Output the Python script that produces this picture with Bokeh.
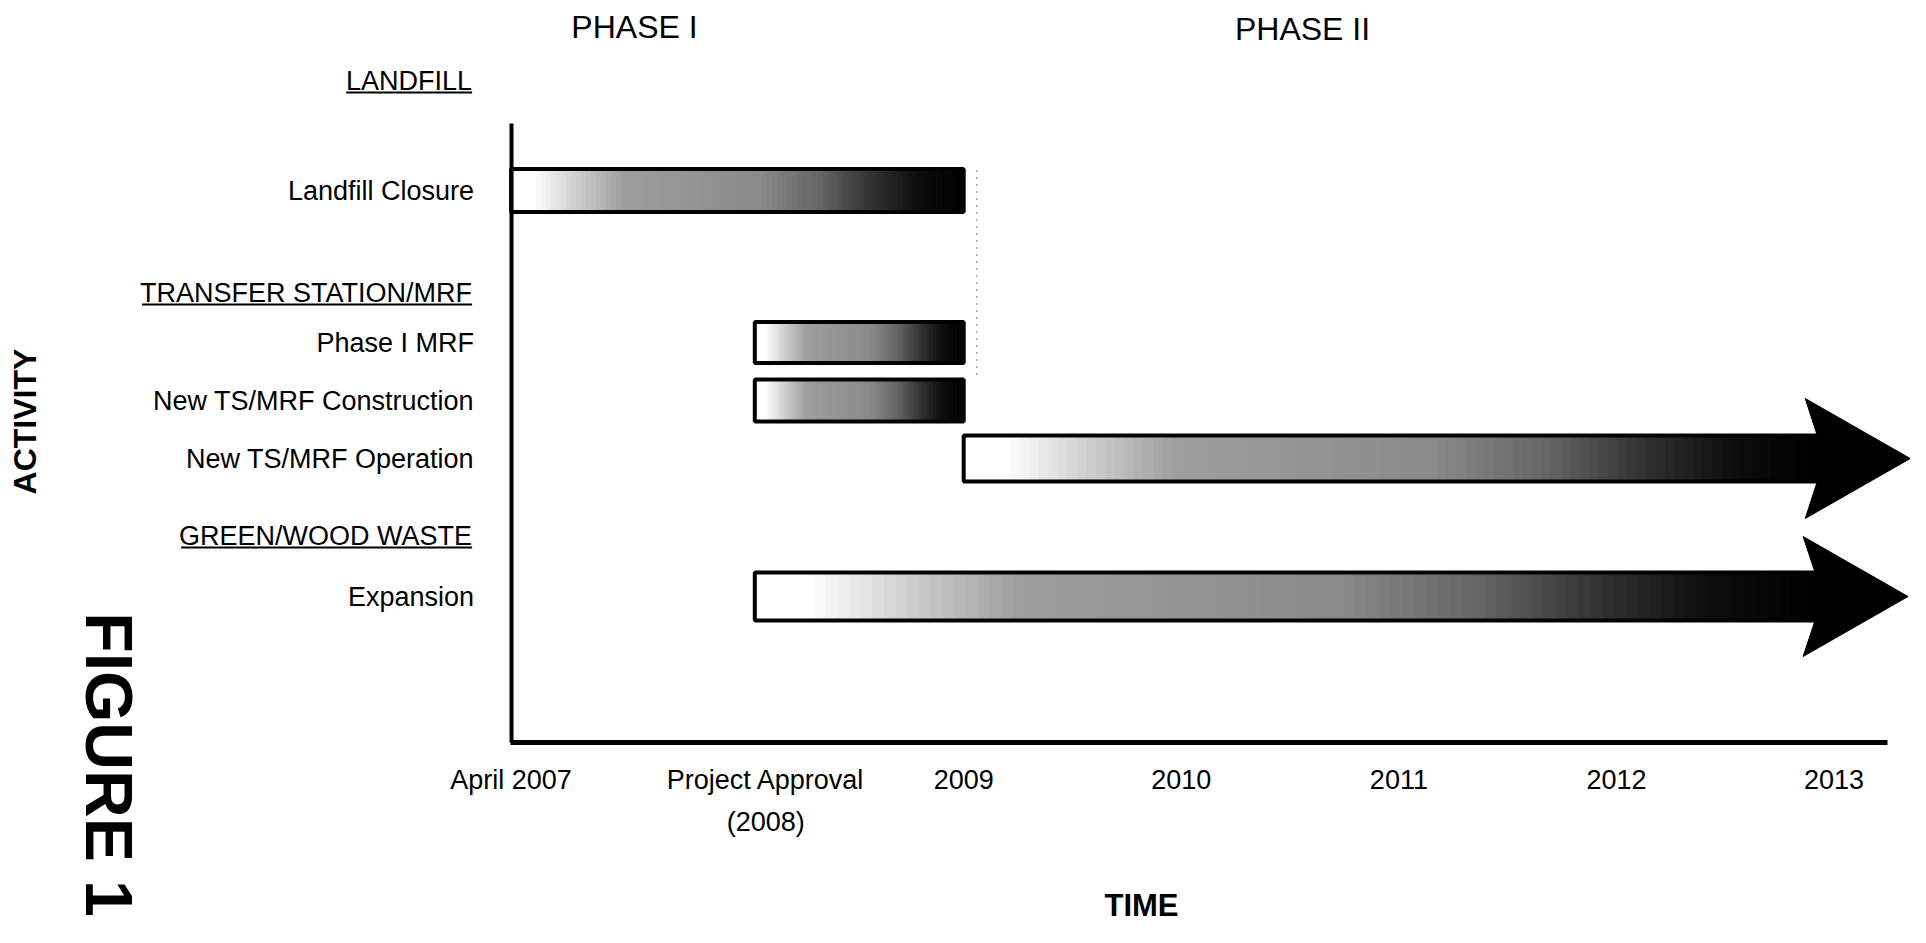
import numpy as np
from bokeh.plotting import figure
from bokeh.models import Range1d, FixedTicker, Label, ColumnDataSource
from bokeh.core.properties import value
from bokeh.embed import file_html
from bokeh.resources import INLINE

# ---------------- data ----------------
MILESTONE_LABELS = ["April 2007", "Project Approval", "2009", "2010", "2011", "2012", "2013"]
MILESTONE_SUBLABEL = "(2008)"
MILESTONE_X = [2006.92, 2008.09, 2009.0, 2010.0, 2011.0, 2012.0, 2013.0]
AXIS_END = 2013.245

GROUPS = ["LANDFILL", "TRANSFER STATION/MRF", "GREEN/WOOD WASTE"]
ACTIVITIES = ["Landfill Closure", "Phase I MRF", "New TS/MRF Construction",
              "New TS/MRF Operation", "Expansion"]
ACT_START = [2006.92, 2008.04, 2008.04, 2009.0, 2008.04]
ACT_END = [2009.0, 2009.0, 2009.0, 2013.35, 2013.34]
ACT_ONGOING = [False, False, False, True, True]

PHASES = ["PHASE I", "PHASE II"]
PHASE_BOUNDARY = 2009.06

# ---------------- layout (reference pixels) ----------------
W, H = 1910, 927
PX_PER_YEAR = 217.6
X2009_PX = 963.2
AXIS_Y_PX = 742


def sx(px):
    """reference x pixel -> data x"""
    return 2009.0 + (px - X2009_PX) / PX_PER_YEAR


def dpx(d):
    return d / PX_PER_YEAR


ROW_Y = [190, 342, 400, 458, 596]
ROW_H = [43, 41, 42, 46, 48]
GROUP_Y = [80, 292, 535]
GROUP_UL = [126, 330, 291]
PHASE_XY = [(634, 26), (1302, 28)]
LABEL_GAP = 37
HEAD_LEN, HEAD_NOTCH, HEAD_HALF = 105, 93, 60
FONT = "Liberation Sans"
FS = "27px"

p = figure(width=W, height=H, output_backend="svg", toolbar_location=None,
           title=None,
           x_range=Range1d(sx(0), sx(W)),
           y_range=Range1d(H, 0),
           min_border_left=0, min_border_right=0, min_border_top=0,
           min_border_bottom=0)
p.grid.visible = False
p.outline_line_color = None
p.background_fill_color = "white"
p.border_fill_color = "white"

# ---------------- gradient bars ----------------
RAMP_T = [0, 0.05, 0.15, 0.25, 0.55, 0.68, 0.80, 0.90, 1.0]
RAMP_L = [1, 1, 0.80, 0.62, 0.54, 0.40, 0.19, 0.05, 0.0]
N = 90
sl, sr, st, sb, sc = [], [], [], [], []
ol, orr, ot, ob = [], [], [], []
hx, hy = [], []
for s, e, ong, y, h in zip(ACT_START, ACT_END, ACT_ONGOING, ROW_Y, ROW_H):
    shaft_end = e - dpx(HEAD_NOTCH) if ong else e
    edges = np.linspace(s, shaft_end, N + 1)
    for k in range(N):
        t = (k + 0.5) / N
        v = int(round(255 * float(np.interp(t, RAMP_T, RAMP_L))))
        sl.append(edges[k]); sr.append(edges[k + 1])
        st.append(y - h / 2); sb.append(y + h / 2)
        sc.append("#%02x%02x%02x" % (v, v, v))
    ol.append(s); orr.append(shaft_end); ot.append(y - h / 2); ob.append(y + h / 2)
    if ong:
        hx.append([e - dpx(HEAD_LEN), e, e - dpx(HEAD_LEN), e - dpx(HEAD_NOTCH), e - dpx(HEAD_NOTCH)])
        hy.append([y - HEAD_HALF, y, y + HEAD_HALF, y + h / 2, y - h / 2])

p.quad(left="l", right="r", top="t", bottom="b", fill_color="c", line_color="c", line_width=1,
       source=ColumnDataSource(dict(l=sl, r=sr, t=st, b=sb, c=sc)))
p.quad(left=ol, right=orr, top=ot, bottom=ob, fill_color=None, line_color="black", line_width=4)
p.patches(xs=hx, ys=hy, fill_color="black", line_color="black", line_width=1)

# faint dotted phase boundary
p.segment(x0=[PHASE_BOUNDARY], y0=[170], x1=[PHASE_BOUNDARY], y1=[377],
          line_color="#555555", line_width=1.5, line_dash="1 6")

# ---------------- axes ----------------
xa = p.xaxis[0]
xa.fixed_location = AXIS_Y_PX
xa.ticker = FixedTicker(ticks=MILESTONE_X)
xa.major_label_overrides = {x: lab for x, lab in zip(MILESTONE_X, MILESTONE_LABELS)}
xa.bounds = (MILESTONE_X[0] - 0.004, AXIS_END)
xa.axis_line_width = 5
xa.axis_line_color = "black"
xa.major_tick_line_color = None
xa.minor_tick_line_color = None
xa.major_tick_out = 0
xa.major_tick_in = 0
xa.major_label_standoff = 22
xa.major_label_text_font = FONT
xa.major_label_text_font_size = FS
xa.major_label_text_color = "black"

ya = p.yaxis[0]
ya.fixed_location = MILESTONE_X[0]
ya.bounds = (123, AXIS_Y_PX)
ya.ticker = FixedTicker(ticks=ROW_Y)
ya.major_label_overrides = {y: lab for y, lab in zip(ROW_Y, ACTIVITIES)}
ya.axis_line_width = 4
ya.axis_line_color = "black"
ya.major_tick_line_color = None
ya.minor_tick_line_color = None
ya.major_tick_out = 0
ya.major_tick_in = 0
ya.major_label_standoff = LABEL_GAP
ya.major_label_text_font = FONT
ya.major_label_text_font_size = FS
ya.major_label_text_color = "black"

# ---------------- texts ----------------
p.text(x=[MILESTONE_X[0]] * 3, y=GROUP_Y, text=GROUPS, x_offset=-LABEL_GAP - 2,
       text_align="right", text_baseline="middle", text_font=value(FONT),
       text_font_size=FS, text_color="black")
p.segment(x0=[MILESTONE_X[0] - dpx(LABEL_GAP + 2 + u) for u in GROUP_UL],
          x1=[MILESTONE_X[0] - dpx(LABEL_GAP + 2)] * 3,
          y0=[g + 12 for g in GROUP_Y], y1=[g + 12 for g in GROUP_Y],
          line_color="black", line_width=2)

p.text(x=[sx(px) for px, _ in PHASE_XY], y=[py for _, py in PHASE_XY], text=PHASES,
       text_align="center", text_baseline="middle", text_font=value(FONT),
       text_font_size="32px", text_color="black")

p.add_layout(Label(x=sx(24), y=421, text="ACTIVITY", angle=np.pi / 2,
                   text_align="center", text_baseline="middle", text_font=FONT,
                   text_font_style="bold", text_font_size="32px", text_color="black"))
p.add_layout(Label(x=MILESTONE_X[1], y=821, text=MILESTONE_SUBLABEL,
                   text_align="center", text_baseline="middle", text_font=FONT,
                   text_font_size=FS, text_color="black"))
p.add_layout(Label(x=sx(1141), y=905, text="TIME",
                   text_align="center", text_baseline="middle", text_font=FONT,
                   text_font_style="bold", text_font_size="31px", text_color="black"))
p.add_layout(Label(x=sx(108), y=764, text="FIGURE 1", angle=-np.pi / 2,
                   text_align="center", text_baseline="middle", text_font=FONT,
                   text_font_style="bold", text_font_size="66px", text_color="black"))

open("out.html", "w").write(file_html(p, INLINE))
